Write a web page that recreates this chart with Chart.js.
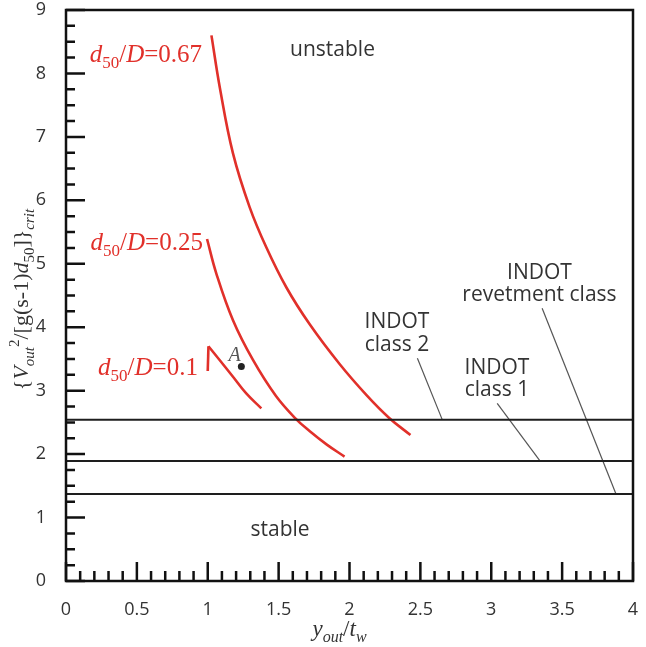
<!DOCTYPE html>
<html>
<head>
<meta charset="utf-8">
<script src="https://cdn.jsdelivr.net/npm/chart.js@4.4.0/dist/chart.umd.min.js"></script>
<style>
    html, body { margin: 0; padding: 0; background: #fff; }
    #wrap { width: 646px; height: 647px; position: relative; }
</style>
</head>
<body>
<div id="wrap"><canvas id="stabilityChart"></canvas></div>
<script>
// 臨界曲線 (d50/D ごと)
const curve067X = [1.026, 1.085, 1.178, 1.296, 1.413, 1.554, 1.718, 1.93, 2.12, 2.28, 2.43];
const curve067Y = [8.60, 7.78, 6.74, 5.89, 5.26, 4.63, 4.05, 3.42, 2.93, 2.57, 2.30];
const curve025X = [0.995, 1.06, 1.178, 1.32, 1.48, 1.62, 1.72, 1.84, 1.965];
const curve025Y = [5.39, 4.85, 4.11, 3.48, 2.92, 2.56, 2.36, 2.15, 1.96];
const curve010LegX = [1.0, 1.005];
const curve010LegY = [3.31, 3.70];
const curve010X = [1.005, 1.085, 1.178, 1.27, 1.378];
const curve010Y = [3.70, 3.48, 3.22, 2.96, 2.72];

// INDOT の基準線 (class 2, class 1, revetment class)
const indotLevels = [2.54, 1.89, 1.37];

// 点 A
const pointA = [1.237, 3.38];

// 引き出し線 [x1, y1, x2, y2]
const leaderClass2 = [2.479, 3.51, 2.655, 2.54];
const leaderClass1 = [3.042, 2.80, 3.345, 1.89];
const leaderRevetment = [3.359, 4.30, 3.88, 1.37];

// 軸
const xMin = 0, xMax = 4, xMajor = 0.5, xMinor = 0.1;
const yMin = 0, yMax = 9, yMajor = 1, yMinor = 0.25;

const RED = '#e1302a';
const TEXT = '#333';

const toPoints = (xs, ys) => xs.map((x, i) => ({ x: x, y: ys[i] }));

function redCurve(xs, ys) {
    return {
        data: toPoints(xs, ys),
        showLine: true,
        borderColor: RED,
        borderWidth: 2.6,
        pointRadius: 0,
        tension: 0.4
    };
}

function plainLine(pts, color, width) {
    return {
        data: pts,
        showLine: true,
        borderColor: color,
        borderWidth: width,
        pointRadius: 0,
        tension: 0
    };
}

const datasets = [];
indotLevels.forEach(v => {
    datasets.push(plainLine([{ x: xMin, y: v }, { x: xMax, y: v }], '#1e1e1e', 2));
});
[leaderClass2, leaderClass1, leaderRevetment].forEach(l => {
    datasets.push(plainLine([{ x: l[0], y: l[1] }, { x: l[2], y: l[3] }], '#555', 1.2));
});
datasets.push(redCurve(curve067X, curve067Y));
datasets.push(redCurve(curve025X, curve025Y));
datasets.push(Object.assign(redCurve(curve010LegX, curve010LegY), { tension: 0 }));
datasets.push(redCurve(curve010X, curve010Y));
datasets.push({
    data: [{ x: pointA[0], y: pointA[1] }],
    showLine: false,
    pointRadius: 3.5,
    pointBackgroundColor: '#222',
    pointBorderWidth: 0
});

// 添字付きテキストを描く
function drawParts(ctx, parts, x, y, size, color, align) {
    const fontOf = p => (p.it ? 'italic ' : '') + ((p.sub || p.sup) ? Math.round(size * 0.68) : size) + 'px "Liberation Serif", "DejaVu Serif", serif';
    let total = 0;
    parts.forEach(p => {
        ctx.font = fontOf(p);
        p.w = ctx.measureText(p.t).width;
        total += p.w;
    });
    let cx = align === 'right' ? x - total : align === 'center' ? x - total / 2 : x;
    ctx.fillStyle = color;
    ctx.textAlign = 'left';
    ctx.textBaseline = 'alphabetic';
    parts.forEach(p => {
        ctx.font = fontOf(p);
        const dy = p.sub ? size * 0.25 : p.sup ? -size * 0.4 : 0;
        ctx.fillText(p.t, cx, y + dy);
        cx += p.w;
    });
}

function ratioLabel(value) {
    return [
        { t: 'd', it: true }, { t: '50', sub: true }, { t: '/' }, { t: 'D', it: true }, { t: '=' + value }
    ];
}

const decorPlugin = {
    id: 'decor',
    afterDatasetsDraw(chart) {
        const ctx = chart.ctx;
        const a = chart.chartArea;
        const xs = chart.scales.x, ys = chart.scales.y;
        const px = v => xs.getPixelForValue(v);
        const py = v => ys.getPixelForValue(v);

        ctx.save();
        // 内向きの目盛り
        ctx.strokeStyle = '#111';
        ctx.lineWidth = 2.5;
        ctx.beginPath();
        const nx = Math.round((xMax - xMin) / xMinor);
        for (let i = 0; i <= nx; i++) {
            const v = xMin + i * xMinor;
            const major = Math.abs(v / xMajor - Math.round(v / xMajor)) < 1e-6;
            const x = px(v);
            ctx.moveTo(x, a.bottom);
            ctx.lineTo(x, a.bottom - (major ? 19 : 10));
        }
        const ny = Math.round((yMax - yMin) / yMinor);
        for (let i = 0; i <= ny; i++) {
            const v = yMin + i * yMinor;
            const major = Math.abs(v / yMajor - Math.round(v / yMajor)) < 1e-6;
            const y = py(v);
            ctx.moveTo(a.left, y);
            ctx.lineTo(a.left + (major ? 19 : 9), y);
        }
        ctx.stroke();

        // 枠
        ctx.lineWidth = 2.5;
        ctx.strokeRect(a.left, a.top, a.right - a.left, a.bottom - a.top);

        // 領域ラベル
        ctx.fillStyle = TEXT;
        ctx.font = '21px "Open Sans", sans-serif';
        ctx.textAlign = 'center';
        ctx.textBaseline = 'middle';
        ctx.fillText('unstable', px(1.88), py(8.37));
        ctx.fillText('stable', px(1.51), py(0.80));
        ctx.fillText('INDOT', px(2.335), py(4.08));
        ctx.fillText('class 2', px(2.335), py(3.72));
        ctx.fillText('INDOT', px(3.04), py(3.36));
        ctx.fillText('class 1', px(3.04), py(3.01));
        ctx.fillText('INDOT', px(3.34), py(4.85));
        ctx.fillText('revetment class', px(3.34), py(4.51));

        // 曲線ラベル
        drawParts(ctx, ratioLabel('0.67'), px(0.96), py(8.18), 25, RED, 'right');
        drawParts(ctx, ratioLabel('0.25'), px(0.966), py(5.22), 25, RED, 'right');
        drawParts(ctx, ratioLabel('0.1'), px(0.931), py(3.25), 25, RED, 'right');
        drawParts(ctx, [{ t: 'A', it: true }], px(1.19), py(3.47), 20, '#555', 'center');

        // 軸タイトル
        drawParts(ctx, [
            { t: 'y', it: true }, { t: 'out', sub: true, it: true }, { t: '/' }, { t: 't', it: true }, { t: 'w', sub: true, it: true }
        ], (a.left + a.right) / 2 - 10, 636, 23, TEXT, 'center');

        ctx.translate(a.left - 38, (a.top + a.bottom) / 2 + 4);
        ctx.rotate(-Math.PI / 2);
        drawParts(ctx, [
            { t: '{' }, { t: 'V', it: true }, { t: 'out', sub: true, it: true }, { t: '2', sup: true },
            { t: '/[g(s-1)' }, { t: 'd', it: true }, { t: '50', sub: true }, { t: ']}' }, { t: 'crit', sub: true, it: true }
        ], 0, 0, 22, TEXT, 'center');
        ctx.restore();
    }
};

const tickFont = { family: '"Open Sans", sans-serif', size: 18 };

const chartContext = document.getElementById('stabilityChart').getContext('2d');
new Chart(chartContext, {
    type: 'scatter',
    data: { datasets: datasets },
    options: {
        responsive: true,
        maintainAspectRatio: false,
        animation: false,
        layout: { padding: { top: 10, right: 13, left: 0, bottom: 0 } },
        plugins: { legend: { display: false }, tooltip: { enabled: false } },
        scales: {
            x: {
                type: 'linear',
                min: xMin,
                max: xMax,
                grid: { display: false },
                border: { display: false },
                ticks: {
                    stepSize: xMajor,
                    padding: 10,
                    color: TEXT,
                    font: tickFont,
                    callback: v => String(Math.round(v * 10) / 10)
                },
                afterFit(scale) {
                    scale.height = 66;
                    scale.paddingLeft = 0;
                    scale.paddingRight = 0;
                }
            },
            y: {
                type: 'linear',
                min: yMin,
                max: yMax,
                grid: { display: false },
                border: { display: false },
                ticks: {
                    stepSize: yMajor,
                    padding: 12,
                    color: TEXT,
                    font: tickFont
                },
                afterFit(scale) {
                    scale.width = 66;
                    scale.paddingTop = 0;
                    scale.paddingBottom = 0;
                }
            }
        }
    },
    plugins: [decorPlugin]
});
</script>
</body>
</html>
